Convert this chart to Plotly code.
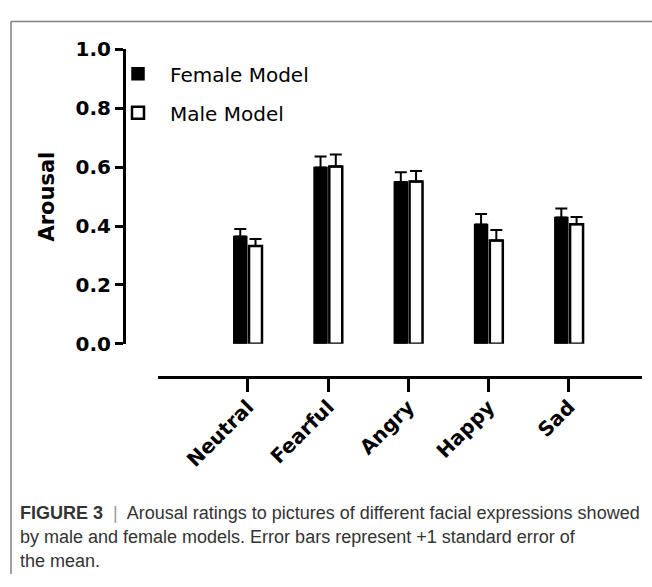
import plotly.graph_objects as go

# ---- data ----
categories = ["Neutral", "Fearful", "Angry", "Happy", "Sad"]
female_mean = [0.365, 0.599, 0.550, 0.405, 0.429]
female_se = [0.025, 0.037, 0.033, 0.036, 0.031]
male_mean = [0.332, 0.602, 0.551, 0.351, 0.406]
male_se = [0.024, 0.041, 0.036, 0.036, 0.025]
series_names = ["Female Model", "Male Model"]
y_ticks = [0.0, 0.2, 0.4, 0.6, 0.8, 1.0]
y_ticktext = ["0.0", "0.2", "0.4", "0.6", "0.8", "1.0"]
y_title = "Arousal"
caption_lines = [
    "<b>FIGURE 3</b>  <span style='color:#9a9a9a'>|</span>  Arousal ratings to pictures of different facial expressions showed",
    "by male and female models. Error bars represent +1 standard error of",
    "the mean.",
]

W, H = 652, 587


def px_x(p):
    return p / W


def px_y(p):
    return 1 - p / H


fig = go.Figure()
fig.add_trace(go.Bar(
    x=categories, y=female_mean, name=series_names[0], legendgroup="f",
    marker=dict(color="black", line=dict(color="black", width=1.5)),
    error_y=dict(type="data", array=female_se, arrayminus=[0] * len(female_se),
                 symmetric=False, color="black", thickness=2, width=6),
))
fig.add_trace(go.Bar(
    x=categories, y=male_mean, name=series_names[1], legendgroup="m",
    marker=dict(color="white", line=dict(color="black", width=2.5)),
    error_y=dict(type="data", array=male_se, arrayminus=[0] * len(male_se),
                 symmetric=False, color="black", thickness=2, width=6),
))

bold_font = "DejaVu Sans"

caption_annotations = [
    dict(text=line, xref="paper", yref="paper",
         x=px_x(18), y=px_y(522 + 25 * i), xanchor="left", yanchor="middle",
         align="left", showarrow=False,
         font=dict(family="Liberation Sans", size=18, color="#333333"))
    for i, line in enumerate(caption_lines)
]

fig.update_layout(
    width=W, height=H,
    margin=dict(l=0, r=0, t=0, b=0),
    paper_bgcolor="white", plot_bgcolor="white",
    barmode="group", bargap=0.62, bargroupgap=0.15,
    showlegend=True,
    legend=dict(
        x=px_x(106), y=px_y(44), xanchor="left", yanchor="top",
        font=dict(family=bold_font, size=20, color="black"),
        bgcolor="rgba(0,0,0,0)", traceorder="grouped", tracegroupgap=10,
        itemwidth=54,
    ),
    xaxis=dict(
        domain=[px_x(158), px_x(642)], range=[-1.12, 4.91],
        anchor="free", position=px_y(381),
        showline=True, linecolor="black", linewidth=3,
        ticks="outside", ticklen=13, tickwidth=3, tickcolor="black",
        tickangle=-45, showgrid=False, zeroline=False,
        ticklabelstandoff=-5,
        tickfont=dict(family=bold_font, size=20, color="black", weight="bold"),
    ),
    yaxis=dict(
        domain=[px_y(346), px_y(39)], range=[0, 1],
        anchor="free", position=px_x(124),
        showline=True, linecolor="black", linewidth=3,
        ticks="outside", ticklen=8, tickwidth=3, tickcolor="black",
        tickvals=y_ticks, ticktext=y_ticktext,
        showgrid=False, zeroline=False,
        tickfont=dict(family=bold_font, size=20, color="black", weight="bold"),
        title=dict(text="<b>" + y_title + "</b>", standoff=14,
                   font=dict(family=bold_font, size=21, color="black")),
    ),
    shapes=[
        dict(type="line", xref="paper", yref="paper",
             x0=px_x(11), x1=1, y0=px_y(10), y1=px_y(10),
             line=dict(color="#808080", width=1.5)),
        dict(type="line", xref="paper", yref="paper",
             x0=px_x(11), x1=px_x(11), y0=px_y(10), y1=px_y(586),
             line=dict(color="#808080", width=1.5)),
    ],
    annotations=caption_annotations,
)

fig.write_html("out.html",
               config={"displayModeBar": False},
               post_script="document.body.style.margin='0';document.body.style.overflow='hidden';")
